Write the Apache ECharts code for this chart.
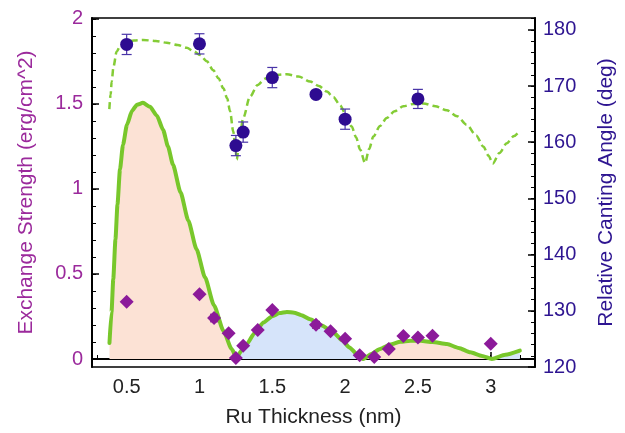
<!DOCTYPE html>
<html>
<head>
	<meta charset="utf-8">
	<title>Ru thickness</title>
	<script src="https://cdn.jsdelivr.net/npm/echarts@6/dist/echarts.min.js"></script>
	<style>
		body { margin: 0; background: #fff; }
		#main { width: 625px; height: 433px; }
	</style>
</head>
<body>
<div id="main"></div>
<script type="text/javascript">
// axis ranges and ticks
var X_MIN = 0.262, X_MAX = 3.304;
var Y1_MIN = -0.047, Y1_MAX = 2.005;
var Y2_MIN = 120, Y2_MAX = 182.1;
var xMajor = [0.5, 1, 1.5, 2, 2.5, 3];
var xMinor = [0.3, 0.4, 0.5, 0.6, 0.7, 0.8, 0.9, 1, 1.1, 1.2, 1.3, 1.4, 1.5, 1.6, 1.7, 1.8, 1.9, 2, 2.1, 2.2, 2.3, 2.4, 2.5, 2.6, 2.7, 2.8, 2.9, 3, 3.1, 3.2, 3.3];
var y1Major = [0, 0.5, 1, 1.5, 2];
var y1Minor = [0, 0.1, 0.2, 0.3, 0.4, 0.5, 0.6, 0.7, 0.8, 0.9, 1, 1.1, 1.2, 1.3, 1.4, 1.5, 1.6, 1.7, 1.8, 1.9, 2];
var y2Major = [120, 130, 140, 150, 160, 170, 180];
var y2Minor = [120, 122, 124, 126, 128, 130, 132, 134, 136, 138, 140, 142, 144, 146, 148, 150, 152, 154, 156, 158, 160, 162, 164, 166, 168, 170, 172, 174, 176, 178, 180, 182];

// fitted exchange strength (left axis), one array per lobe
var lobe1 = [[0.382, 0.094], [0.396, 0.275], [0.408, 0.469], [0.423, 0.703], [0.437, 0.909], [0.454, 1.114], [0.475, 1.26], [0.502, 1.377], [0.537, 1.46], [0.571, 1.495], [0.612, 1.506], [0.66, 1.483], [0.708, 1.43], [0.75, 1.348], [0.784, 1.249], [0.818, 1.143], [0.87, 0.98], [0.923, 0.815], [0.98, 0.645], [1.038, 0.48], [1.1, 0.315], [1.165, 0.165], [1.22, 0.06], [1.254, 0.009]];
var lobe2 = [[1.254, 0.009], [1.29, 0.05], [1.325, 0.088], [1.38, 0.155], [1.44, 0.215], [1.5, 0.252], [1.55, 0.27], [1.6, 0.277], [1.65, 0.272], [1.7, 0.258], [1.76, 0.234], [1.84, 0.197], [1.92, 0.156], [1.98, 0.11], [2.03, 0.068], [2.08, 0.03], [2.125, 0.0]];
var lobe3 = [[2.125, 0.0], [2.18, 0.03], [2.24, 0.059], [2.31, 0.085], [2.38, 0.101], [2.45, 0.107], [2.52, 0.107], [2.6, 0.1], [2.7, 0.088], [2.78, 0.065], [2.86, 0.039], [2.94, 0.018], [3.008, 0.0]];
var lobe4 = [[3.008, 0.0], [3.1, 0.025], [3.2, 0.049]];

// fitted canting angle (right axis)
var angleFit = [[0.381, 165.9], [0.39, 168.5], [0.397, 170.8], [0.41, 173.5], [0.431, 176.1], [0.46, 177.3], [0.5, 177.9], [0.55, 178.1], [0.614, 178.2], [0.7, 178.0], [0.775, 177.7], [0.85, 177.3], [0.912, 176.8], [0.96, 176.2], [1.004, 175.5], [1.05, 174.4], [1.095, 172.8], [1.13, 171.4], [1.164, 169.6], [1.19, 167.8], [1.21, 165.5], [1.232, 161.9], [1.245, 159.5], [1.256, 156.9], [1.275, 160.8], [1.3, 164.3], [1.347, 168.1], [1.4, 170.2], [1.45, 171.3], [1.5, 171.9], [1.6, 172.1], [1.68, 171.7], [1.76, 170.8], [1.82, 170.0], [1.874, 169.0], [1.92, 168.0], [1.965, 166.6], [2.0, 165.2], [2.045, 162.8], [2.075, 160.9], [2.103, 158.7], [2.137, 156.3], [2.165, 158.8], [2.194, 161.0], [2.24, 162.9], [2.286, 164.3], [2.34, 165.5], [2.4, 166.4], [2.47, 166.8], [2.537, 166.9], [2.62, 166.4], [2.698, 165.7], [2.77, 164.6], [2.835, 163.1], [2.9, 161.2], [2.95, 159.2], [2.985, 157.6], [3.014, 156.2], [3.06, 158.1], [3.11, 159.8], [3.16, 161.1], [3.2, 162.1]];

// measured points: [thickness, value, error]
var strength = [[0.5, 0.336, 0], [1.0, 0.381, 0], [1.1, 0.241, 0.022], [1.2, 0.152, 0], [1.25, 0.006, 0], [1.3, 0.078, 0], [1.4, 0.17, 0.01], [1.5, 0.288, 0], [1.8, 0.201, 0.02], [1.9, 0.163, 0], [2.0, 0.119, 0], [2.1, 0.022, 0], [2.2, 0.012, 0], [2.3, 0.059, 0], [2.4, 0.135, 0], [2.5, 0.127, 0], [2.6, 0.137, 0], [3.0, 0.09, 0]];
var angle = [[0.5, 177.4, 1.8], [1.0, 177.5, 1.8], [1.25, 159.4, 1.8], [1.3, 161.8, 1.8], [1.5, 171.5, 1.8], [1.8, 168.5, 0.5], [2.0, 164.1, 1.8], [2.5, 167.7, 1.7]];

var FONT = 'Liberation Sans, Arial, Helvetica, sans-serif';
var PURPLE = '#9b2a9c', INDIGO = '#2e1591', GREEN = '#78c72b';
var PEACH = '#fce2d5', SKY = '#d6e4fa';

function errRange(arr) {
	return arr.filter(function (d) { return d[2] > 0; }).map(function (d) { return [d[0], d[1] - d[2], d[1] + d[2]]; });
}

function errBar(color, cap) {
	return function (params, api) {
		var x = api.value(0);
		var lo = api.coord([x, api.value(1)]);
		var hi = api.coord([x, api.value(2)]);
		var st = { stroke: color, lineWidth: 1.2 };
		return {
			type: 'group',
			children: [
				{ type: 'line', shape: { x1: lo[0], y1: lo[1], x2: hi[0], y2: hi[1] }, style: st },
				{ type: 'line', shape: { x1: lo[0] - cap, y1: lo[1], x2: lo[0] + cap, y2: lo[1] }, style: st },
				{ type: 'line', shape: { x1: hi[0] - cap, y1: hi[1], x2: hi[0] + cap, y2: hi[1] }, style: st }
			]
		};
	};
}

function fill(data, color) {
	return {
		type: 'line', yAxisIndex: 0, data: data, showSymbol: false, silent: true,
		smooth: 0.2, smoothMonotone: 'x',
		lineStyle: { width: 0 }, areaStyle: { color: color, opacity: 1, origin: 0 }, z: 1
	};
}

// minor tick axis that shares the place of a main axis
function minorAxis(min, max, pos, ticks) {
	return {
		type: 'value', min: min, max: max, position: pos, offset: 0,
		axisLine: { show: false },
		axisTick: { show: true, inside: true, length: 4, customValues: ticks, lineStyle: { color: '#000', width: 1 } },
		axisLabel: { show: false }, splitLine: { show: false }
	};
}

var curve = lobe1.concat(lobe2.slice(1), lobe3.slice(1), lobe4.slice(1));

var myChart = echarts.init(document.getElementById('main'));
var option = {
	animation: false,
	backgroundColor: '#fff',
	grid: { left: 92, right: 90, top: 18, bottom: 65, show: true, borderColor: '#000', borderWidth: 1.5, backgroundColor: 'transparent' },
	xAxis: [{
		type: 'value', min: X_MIN, max: X_MAX, position: 'bottom', offset: 0,
		name: 'Ru Thickness (nm)', nameLocation: 'middle', nameGap: 40,
		nameTextStyle: { fontSize: 21, color: '#222', fontFamily: FONT },
		axisLine: { lineStyle: { color: '#000', width: 2 } },
		axisTick: { inside: true, length: 7, customValues: xMajor, lineStyle: { color: '#000', width: 1.5 } },
		axisLabel: { customValues: xMajor, margin: 10, fontSize: 20, color: '#222', fontFamily: FONT },
		splitLine: { show: false }
	}, minorAxis(X_MIN, X_MAX, 'bottom', xMinor)],
	yAxis: [{
		type: 'value', min: Y1_MIN, max: Y1_MAX, position: 'left', offset: 0,
		name: 'Exchange Strength (erg/cm^2)', nameLocation: 'middle', nameGap: 55, nameRotate: 90,
		nameTextStyle: { fontSize: 21, color: PURPLE, fontFamily: FONT },
		axisLine: { show: true, lineStyle: { color: '#000', width: 2 } },
		axisTick: { show: true, inside: true, length: 7, customValues: y1Major, lineStyle: { color: '#000', width: 1.5 } },
		axisLabel: { customValues: y1Major, margin: 9, fontSize: 20, color: PURPLE, fontFamily: FONT },
		splitLine: { show: false }
	}, {
		type: 'value', min: Y2_MIN, max: Y2_MAX, position: 'right', offset: 0,
		name: 'Relative Canting Angle (deg)', nameLocation: 'middle', nameGap: 61, nameRotate: 90,
		nameTextStyle: { fontSize: 21, color: INDIGO, fontFamily: FONT },
		axisLine: { show: true, lineStyle: { color: '#000', width: 2 } },
		axisTick: { show: true, inside: true, length: 7, customValues: y2Major, lineStyle: { color: '#000', width: 1.5 } },
		axisLabel: { customValues: y2Major, margin: 8, fontSize: 20, color: INDIGO, fontFamily: FONT },
		splitLine: { show: false }
	}, minorAxis(Y1_MIN, Y1_MAX, 'left', y1Minor), minorAxis(Y2_MIN, Y2_MAX, 'right', y2Minor)],
	series: [
		fill(lobe1, PEACH),
		fill(lobe2, SKY),
		fill(lobe3, PEACH),
		fill(lobe4, SKY),
		{
			type: 'line', yAxisIndex: 0, data: curve, showSymbol: false, silent: true,
			smooth: 0.2, smoothMonotone: 'x',
			lineStyle: { color: GREEN, width: 4, cap: 'round', join: 'round' }, z: 3
		},
		{
			type: 'line', yAxisIndex: 1, data: angleFit, showSymbol: false, silent: true,
			smooth: 0.3, smoothMonotone: 'x',
			lineStyle: { color: '#84cc36', width: 2.5, type: [7, 4] }, z: 3
		},
		{
			type: 'custom', yAxisIndex: 0, data: errRange(strength), renderItem: errBar('#8c1a9a', 4), z: 4
		},
		{
			type: 'scatter', yAxisIndex: 0, data: strength.map(function (d) { return [d[0], d[1]]; }),
			symbol: 'diamond', symbolSize: 14, itemStyle: { color: '#8c1a9a', opacity: 1 }, z: 5
		},
		{
			type: 'custom', yAxisIndex: 1, data: errRange(angle), renderItem: errBar('#4a35a8', 5), z: 4
		},
		{
			type: 'scatter', yAxisIndex: 1, data: angle.map(function (d) { return [d[0], d[1]]; }),
			symbol: 'circle', symbolSize: 13, itemStyle: { color: '#2e0c91', opacity: 1 }, z: 5
		}
	]
};
myChart.setOption(option);
</script>
</body>
</html>
